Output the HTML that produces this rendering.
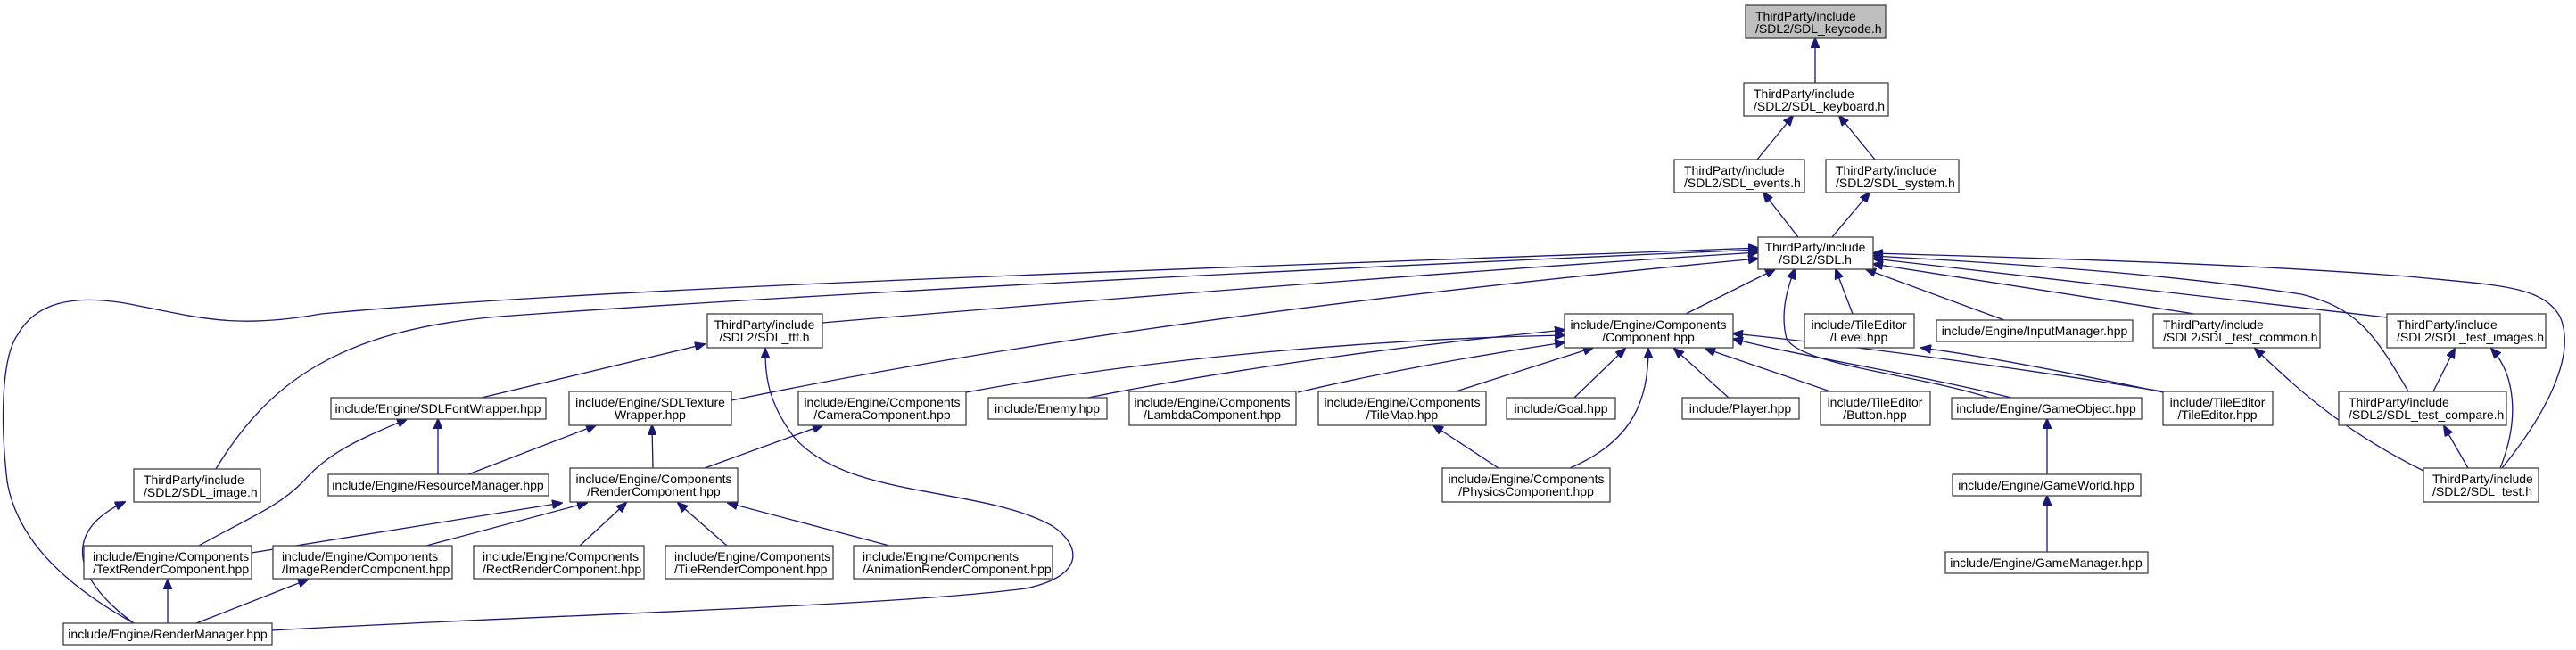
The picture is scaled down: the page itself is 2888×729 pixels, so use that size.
<!DOCTYPE html>
<html><head><meta charset="utf-8"><style>
html,body{margin:0;padding:0;background:#fff;}
svg{display:block;}
text{font-family:"Liberation Sans",Helvetica,Arial,sans-serif;font-size:14px;fill:#000;}
.b{fill:#fff;stroke:#404040;stroke-width:1.3;}
.e{fill:none;stroke:#191970;stroke-width:1.3;marker-end:url(#a);}
</style></head><body>
<svg width="2888" height="729" viewBox="0 0 2888 729" xmlns="http://www.w3.org/2000/svg">
<defs><marker id="a" markerWidth="12" markerHeight="10" refX="11" refY="5" orient="auto" markerUnits="userSpaceOnUse"><path d="M0,0 L12,5 L0,10 Z" fill="#191970" stroke="#191970"/></marker></defs>

<path class="e" d="M2035,93 L2035,43"/>
<path class="e" d="M1970,179 L2010,130"/>
<path class="e" d="M2102,179 L2062,130"/>
<path class="e" d="M2016,266 L1977,216"/>
<path class="e" d="M2054,266 L2096,216"/>
<path class="e" d="M922,362 C1300,330 1700,300 1971,283"/>
<path class="e" d="M820,449 C1200,370 1650,320 1971,290"/>
<path class="e" d="M1890,352 L1990,302"/>
<path class="e" d="M2077,352 L2058,302"/>
<path class="e" d="M2247,359 L2092,302"/>
<path class="e" d="M2460,352 L2100,296"/>
<path class="e" d="M2676,356 L2100,290"/>
<path class="e" d="M2700,439 C2660,370 2640,345 2580,330 C2450,310 2300,298 2100,287"/>
<path class="e" d="M2805,525 C2850,470 2890,400 2870,355 C2850,320 2800,320 2700,310 C2500,295 2300,290 2100,284"/>
<path class="e" d="M2230,446 C2150,420 2020,410 2003,380 C1995,350 2005,320 2012,302"/>
<path class="e" d="M242,526 C300,430 380,370 560,355 C900,330 1500,300 1971,280"/>
<path class="e" d="M150,699 C80,660 20,610 8,540 C0,470 2,400 20,375 C40,340 80,330 140,340 C220,355 260,370 360,352 C700,320 1400,300 1971,278"/>
<path class="e" d="M1083,440 C1300,400 1550,380 1754,376"/>
<path class="e" d="M1220,446 C1400,410 1600,385 1754,370"/>
<path class="e" d="M1455,440 C1560,415 1680,395 1754,384"/>
<path class="e" d="M1632,439 L1786,390"/>
<path class="e" d="M1765,446 L1822,391"/>
<path class="e" d="M1760,525 C1830,495 1848,450 1848,391"/>
<path class="e" d="M1938,446 L1877,391"/>
<path class="e" d="M2052,439 L1912,391"/>
<path class="e" d="M2255,446 C2150,420 2020,400 1943,380"/>
<path class="e" d="M2430,440 C2250,410 2050,385 1943,374"/>
<path class="e" d="M2425,440 C2330,420 2230,400 2154,390"/>
<path class="e" d="M2717,528 C2620,480 2570,430 2528,391"/>
<path class="e" d="M2728,439 L2752,391"/>
<path class="e" d="M2803,525 C2825,470 2820,420 2793,391"/>
<path class="e" d="M2767,525 L2740,478"/>
<path class="e" d="M2295,532 L2295,470"/>
<path class="e" d="M2295,619 L2295,556"/>
<path class="e" d="M1680,525 L1607,477"/>
<path class="e" d="M540,446 L790,386"/>
<path class="e" d="M305,707 C600,690 1000,680 1150,660 C1220,645 1210,610 1180,590 C1100,545 950,560 890,490 C860,450 858,420 858,391"/>
<path class="e" d="M491,532 L491,470"/>
<path class="e" d="M223,612 C280,580 310,570 340,540 C370,505 410,490 456,470"/>
<path class="e" d="M525,532 L668,477"/>
<path class="e" d="M732,525 L731,477"/>
<path class="e" d="M790,525 L922,477"/>
<path class="e" d="M282,620 L630,564"/>
<path class="e" d="M478,612 L658,564"/>
<path class="e" d="M650,612 L702,564"/>
<path class="e" d="M815,612 L760,564"/>
<path class="e" d="M997,612 L816,564"/>
<path class="e" d="M150,699 C70,640 80,590 140,563"/>
<path class="e" d="M188,699 L188,650"/>
<path class="e" d="M220,699 L345,650"/>

<rect x="1957" y="6" width="157" height="37" fill="#bfbfbf" stroke="#404040" stroke-width="1.3"/>
<text x="1968" y="23">ThirdParty/include</text><text x="1968" y="37">/SDL2/SDL_keycode.h</text>
<rect class="b" x="1955" y="93" width="162" height="37"/><text x="1966" y="110">ThirdParty/include</text><text x="1966" y="124">/SDL2/SDL_keyboard.h</text>
<rect class="b" x="1877" y="179" width="146" height="37"/><text x="1888" y="196">ThirdParty/include</text><text x="1888" y="210">/SDL2/SDL_events.h</text>
<rect class="b" x="2047" y="179" width="149" height="37"/><text x="2058" y="196">ThirdParty/include</text><text x="2058" y="210">/SDL2/SDL_system.h</text>
<rect class="b" x="1971" y="266" width="129" height="36"/><text x="2035" y="282" text-anchor="middle">ThirdParty/include</text><text x="2035" y="296" text-anchor="middle">/SDL2/SDL.h</text>

<rect class="b" x="793" y="352" width="129" height="38"/><text x="857" y="369" text-anchor="middle">ThirdParty/include</text><text x="857" y="383" text-anchor="middle">/SDL2/SDL_ttf.h</text>
<rect class="b" x="1754" y="352" width="189" height="38"/><text x="1848" y="369" text-anchor="middle">include/Engine/Components</text><text x="1848" y="383" text-anchor="middle">/Component.hpp</text>
<rect class="b" x="2023" y="352" width="123" height="38"/><text x="2084" y="369" text-anchor="middle">include/TileEditor</text><text x="2084" y="383" text-anchor="middle">/Level.hpp</text>
<rect class="b" x="2171" y="359" width="220" height="24"/><text x="2281" y="376" text-anchor="middle">include/Engine/InputManager.hpp</text>
<rect class="b" x="2414" y="352" width="187" height="38"/><text x="2425" y="369">ThirdParty/include</text><text x="2425" y="383">/SDL2/SDL_test_common.h</text>
<rect class="b" x="2676" y="352" width="178" height="38"/><text x="2687" y="369">ThirdParty/include</text><text x="2687" y="383">/SDL2/SDL_test_images.h</text>

<rect class="b" x="371" y="446" width="241" height="24"/><text x="491" y="463" text-anchor="middle">include/Engine/SDLFontWrapper.hpp</text>
<rect class="b" x="638" y="439" width="182" height="38"/><text x="729" y="456" text-anchor="middle">include/Engine/SDLTexture</text><text x="729" y="470" text-anchor="middle">Wrapper.hpp</text>
<rect class="b" x="895" y="439" width="188" height="38"/><text x="989" y="456" text-anchor="middle">include/Engine/Components</text><text x="989" y="470" text-anchor="middle">/CameraComponent.hpp</text>
<rect class="b" x="1108" y="446" width="133" height="24"/><text x="1174" y="463" text-anchor="middle">include/Enemy.hpp</text>
<rect class="b" x="1266" y="439" width="187" height="38"/><text x="1359" y="456" text-anchor="middle">include/Engine/Components</text><text x="1359" y="470" text-anchor="middle">/LambdaComponent.hpp</text>
<rect class="b" x="1478" y="439" width="188" height="38"/><text x="1572" y="456" text-anchor="middle">include/Engine/Components</text><text x="1572" y="470" text-anchor="middle">/TileMap.hpp</text>
<rect class="b" x="1689" y="446" width="122" height="24"/><text x="1750" y="463" text-anchor="middle">include/Goal.hpp</text>
<rect class="b" x="1886" y="446" width="131" height="24"/><text x="1951" y="463" text-anchor="middle">include/Player.hpp</text>
<rect class="b" x="2041" y="439" width="123" height="38"/><text x="2102" y="456" text-anchor="middle">include/TileEditor</text><text x="2102" y="470" text-anchor="middle">/Button.hpp</text>
<rect class="b" x="2188" y="446" width="213" height="24"/><text x="2294" y="463" text-anchor="middle">include/Engine/GameObject.hpp</text>
<rect class="b" x="2425" y="439" width="123" height="38"/><text x="2486" y="456" text-anchor="middle">include/TileEditor</text><text x="2486" y="470" text-anchor="middle">/TileEditor.hpp</text>
<rect class="b" x="2622" y="439" width="188" height="38"/><text x="2633" y="456">ThirdParty/include</text><text x="2633" y="470">/SDL2/SDL_test_compare.h</text>

<rect class="b" x="150" y="526" width="142" height="37"/><text x="161" y="543">ThirdParty/include</text><text x="161" y="557">/SDL2/SDL_image.h</text>
<rect class="b" x="368" y="532" width="247" height="24"/><text x="491" y="549" text-anchor="middle">include/Engine/ResourceManager.hpp</text>
<rect class="b" x="639" y="525" width="188" height="38"/><text x="733" y="542" text-anchor="middle">include/Engine/Components</text><text x="733" y="556" text-anchor="middle">/RenderComponent.hpp</text>
<rect class="b" x="1617" y="525" width="188" height="38"/><text x="1711" y="542" text-anchor="middle">include/Engine/Components</text><text x="1711" y="556" text-anchor="middle">/PhysicsComponent.hpp</text>
<rect class="b" x="2189" y="532" width="211" height="24"/><text x="2294" y="549" text-anchor="middle">include/Engine/GameWorld.hpp</text>
<rect class="b" x="2717" y="525" width="129" height="38"/><text x="2727" y="542">ThirdParty/include</text><text x="2727" y="556">/SDL2/SDL_test.h</text>

<rect class="b" x="94" y="612" width="188" height="37"/><text x="104" y="629">include/Engine/Components</text><text x="104" y="643">/TextRenderComponent.hpp</text>
<rect class="b" x="306" y="612" width="201" height="37"/><text x="316" y="629">include/Engine/Components</text><text x="316" y="643">/ImageRenderComponent.hpp</text>
<rect class="b" x="531" y="612" width="191" height="37"/><text x="541" y="629">include/Engine/Components</text><text x="541" y="643">/RectRenderComponent.hpp</text>
<rect class="b" x="746" y="612" width="188" height="37"/><text x="756" y="629">include/Engine/Components</text><text x="756" y="643">/TileRenderComponent.hpp</text>
<rect class="b" x="957" y="612" width="223" height="37"/><text x="967" y="629">include/Engine/Components</text><text x="967" y="643">/AnimationRenderComponent.hpp</text>
<rect class="b" x="2181" y="619" width="227" height="24"/><text x="2294" y="636" text-anchor="middle">include/Engine/GameManager.hpp</text>

<rect class="b" x="71" y="699" width="234" height="24"/><text x="188" y="716" text-anchor="middle">include/Engine/RenderManager.hpp</text>
</svg>
</body></html>
